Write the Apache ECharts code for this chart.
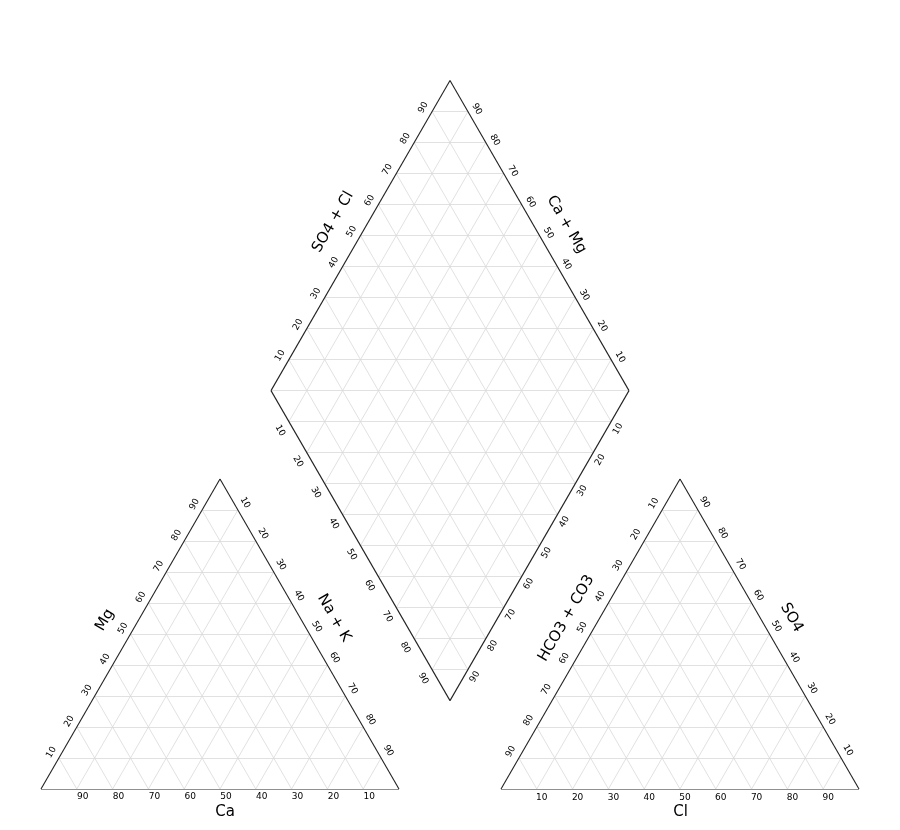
<!DOCTYPE html>
<html>
<head>
<meta charset="utf-8">
<script src="https://cdn.jsdelivr.net/npm/echarts@6/dist/echarts.min.js"></script>
<style>html,body{margin:0;padding:0;background:#fff}#c{width:900px;height:830px}</style>
</head>
<body>
<div id="c"></div>
<script>
// ---- data ----
const TICKS = [10, 20, 30, 40, 50, 60, 70, 80, 90];
const CATION_TITLES = ['Ca', 'Mg', 'Na + K'];
const ANION_TITLES = ['Cl', 'SO4', 'HCO3 + CO3'];
const DIAMOND_TITLES = ['SO4 + Cl', 'Ca + Mg'];

// ---- geometry ----
const GAP = 0.285;
const H = Math.sqrt(3) / 2;
const GRID = { left: 41, top: 73, width: 818, height: 716 };
const PX = GRID.width / (2 + GAP);

function leftTri(ca, mg, na) { return [na + mg / 2, mg * H]; }
function rightTri(hc, so4, cl) { return [1 + GAP + cl + so4 / 2, so4 * H]; }
function diamond(u, w) {
  const bx = 1 + GAP / 2, by = GAP * H;
  return [bx - 0.5 * u + 0.5 * w, by + H * (u + w)];
}
function shift(p, dx, dy) { return [p[0] + dx / PX, p[1] - dy / PX]; }
function mid(a, b) { return [(a[0] + b[0]) / 2, (a[1] + b[1]) / 2]; }

// grid lines
const gridLines = [];
TICKS.forEach(t => {
  const f = t / 100;
  gridLines.push({ coords: [leftTri(1 - f, f, 0), leftTri(0, f, 1 - f)] });
  gridLines.push({ coords: [leftTri(1 - f, 0, f), leftTri(0, 1 - f, f)] });
  gridLines.push({ coords: [leftTri(f, 0, 1 - f), leftTri(f, 1 - f, 0)] });
  gridLines.push({ coords: [rightTri(1 - f, f, 0), rightTri(0, f, 1 - f)] });
  gridLines.push({ coords: [rightTri(1 - f, 0, f), rightTri(0, 1 - f, f)] });
  gridLines.push({ coords: [rightTri(f, 0, 1 - f), rightTri(f, 1 - f, 0)] });
  gridLines.push({ coords: [diamond(f, 0), diamond(f, 1)] });
  gridLines.push({ coords: [diamond(0, f), diamond(1, f)] });
});
const levels = TICKS.map(t => t / 100).concat([1]).concat(TICKS.map(t => 1 + t / 100));
levels.forEach(s => {
  if (s <= 1) gridLines.push({ coords: [diamond(s, 0), diamond(0, s)] });
  else gridLines.push({ coords: [diamond(1, s - 1), diamond(s - 1, 1)] });
});

// outlines
const LA = leftTri(1, 0, 0), LB = leftTri(0, 0, 1), LC = leftTri(0, 1, 0);
const RA = rightTri(1, 0, 0), RB = rightTri(0, 0, 1), RC = rightTri(0, 1, 0);
const DB = diamond(0, 0), DL = diamond(1, 0), DT = diamond(1, 1), DR = diamond(0, 1);
const outline = [
  [LA, LB], [LB, LC], [LC, LA],
  [RA, RB], [RB, RC], [RC, RA],
  [DB, DL], [DL, DT], [DT, DR], [DR, DB]
].map(c => ({ coords: c }));

// tick labels
function tickSeries(pointFn, dx, dy, rot) {
  return {
    type: 'scatter', symbolSize: 0, silent: true, z: 5, clip: false,
    itemStyle: { opacity: 1 },
    data: TICKS.map(t => ({ name: String(t), value: shift(pointFn(t / 100), dx, dy) })),
    label: {
      show: true, position: 'inside', formatter: '{b}', rotate: rot,
      fontSize: 9, color: '#000', opacity: 1, fontFamily: 'DejaVu Sans',
      align: 'center', verticalAlign: 'middle'
    }
  };
}
function titleSeries(items) {
  return {
    type: 'scatter', symbolSize: 0, silent: true, z: 6, clip: false,
    itemStyle: { opacity: 1 },
    data: items.map(it => ({ name: it.text, value: shift(it.p, it.dx, it.dy),
      label: { rotate: it.rot } })),
    label: {
      show: true, position: 'inside', formatter: '{b}',
      fontSize: 15, color: '#000', opacity: 1, fontFamily: 'DejaVu Sans',
      align: 'center', verticalAlign: 'middle'
    }
  };
}

const series = [
  { type: 'lines', coordinateSystem: 'cartesian2d', silent: true, z: 1,
    lineStyle: { color: '#d9d9d9', width: 0.8, opacity: 1 }, data: gridLines },
  { type: 'lines', coordinateSystem: 'cartesian2d', silent: true, z: 2,
    lineStyle: { color: '#222', width: 1.1, opacity: 1 }, data: outline },
  // left triangle
  tickSeries(f => leftTri(f, 0, 1 - f), 6, 8, 0),
  tickSeries(f => leftTri(1 - f, f, 0), -7.5, -5.7, 60),
  tickSeries(f => leftTri(0, 1 - f, f), 7.2, -7.3, -60),
  // right triangle
  tickSeries(f => rightTri(1 - f, 0, f), 5, 8.3, 0),
  tickSeries(f => rightTri(f, 1 - f, 0), -8.2, -6.5, 60),
  tickSeries(f => rightTri(0, f, 1 - f), 6.8, -7.6, -60),
  // diamond
  tickSeries(f => diamond(1, f), -8.8, -4, 60),
  tickSeries(f => diamond(f, 1), 9, -2.5, -60),
  tickSeries(f => diamond(1 - f, 0), -8.8, 9, -60),
  tickSeries(f => diamond(0, 1 - f), 7, 7.2, 60),
  titleSeries([
    { text: CATION_TITLES[0], p: mid(LA, LB), dx: 5, dy: 23, rot: 0 },
    { text: CATION_TITLES[1], p: mid(LA, LC), dx: -25.5, dy: -14, rot: 60 },
    { text: CATION_TITLES[2], p: mid(LB, LC), dx: 24.5, dy: -16, rot: -60 },
    { text: ANION_TITLES[0], p: mid(RA, RB), dx: 0.5, dy: 23, rot: 0 },
    { text: ANION_TITLES[1], p: mid(RB, RC), dx: 22, dy: -16.3, rot: -60 },
    { text: ANION_TITLES[2], p: mid(RA, RC), dx: -24, dy: -15.7, rot: 60 },
    { text: DIAMOND_TITLES[0], p: mid(DL, DT), dx: -27.5, dy: -13.5, rot: 60 },
    { text: DIAMOND_TITLES[1], p: mid(DT, DR), dx: 27, dy: -11, rot: -60 }
  ])
];

const chart = echarts.init(document.getElementById('c'), null, { renderer: 'canvas' });
chart.setOption({
  animation: false,
  backgroundColor: '#fff',
  grid: { left: GRID.left, top: GRID.top, width: GRID.width, height: GRID.height },
  xAxis: { type: 'value', min: 0, max: 2 + GAP, show: false },
  yAxis: { type: 'value', min: 0, max: 2, show: false },
  series: series
});
</script>
</body>
</html>
